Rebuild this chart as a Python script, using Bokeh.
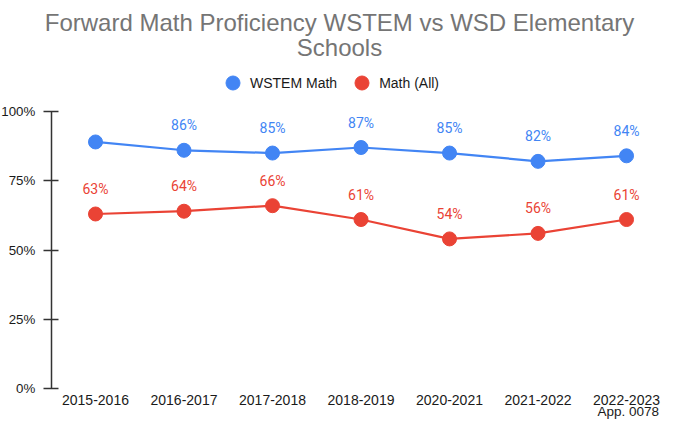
from bokeh.plotting import figure
from bokeh.models import (ColumnDataSource, Range1d, FixedTicker, LinearAxis,
                          Label, Legend, LegendItem)
from bokeh.core.properties import value
from bokeh.embed import file_html
from bokeh.resources import INLINE

years = ["2015-2016", "2016-2017", "2017-2018", "2018-2019",
         "2020-2021", "2021-2022", "2022-2023"]
wstem = [89, 86, 85, 87, 85, 82, 84]
math_all = [63, 64, 66, 61, 54, 56, 61]
wstem_labels = ["", "86%", "85%", "87%", "85%", "82%", "84%"]
math_labels = ["63%", "64%", "66%", "61%", "54%", "56%", "61%"]
y_ticks = [0, 25, 50, 75, 100]
y_tick_labels = ["0%", "25%", "50%", "75%", "100%"]

BLUE = "#4285F4"
RED = "#EA4335"

pos = list(range(len(years)))  # category slots

# the frame covers the whole figure; ranges are widened so the plot area sits
# where the reference's does and title / legend fit inside the frame
p = figure(width=674, height=430, output_backend="svg", toolbar_location=None,
           x_range=Range1d(-1.0734, 6.542), y_range=Range1d(-15.16, 140.07),
           x_axis_location=None, y_axis_location=None,
           min_border_left=0, min_border_right=0, min_border_top=0,
           min_border_bottom=0)
p.outline_line_color = None
p.xgrid.grid_line_color = None
p.ygrid.grid_line_color = None

src_w = ColumnDataSource(dict(x=pos, y=wstem, t=wstem_labels))
src_m = ColumnDataSource(dict(x=pos, y=math_all, t=math_labels))

p.line("x", "y", source=src_w, line_color=BLUE, line_width=2.2)
p.line("x", "y", source=src_m, line_color=RED, line_width=2.2)
rw = p.scatter("x", "y", source=src_w, size=14, fill_color=BLUE, line_color=BLUE)
rm = p.scatter("x", "y", source=src_m, size=14, fill_color=RED, line_color=RED)

for src, col in ((src_w, BLUE), (src_m, RED)):
    p.text("x", "y", text="t", source=src, text_color=col,
           text_font=value("Roboto"), text_font_size="14px",
           text_align="center", text_baseline="middle", y_offset=-25)

# y axis, drawn at the left edge of the first category slot
yaxis = LinearAxis(ticker=FixedTicker(ticks=y_ticks), fixed_location=-0.5,
                   bounds=(y_ticks[0], y_ticks[-1]))
yaxis.major_label_overrides = {t: l for t, l in zip(y_ticks, y_tick_labels)}
yaxis.axis_line_color = "#333333"
yaxis.axis_line_width = 1.5
yaxis.major_tick_line_color = "#333333"
yaxis.major_tick_line_width = 1.5
yaxis.major_tick_in = 7
yaxis.major_tick_out = 8
yaxis.minor_tick_line_color = None
yaxis.major_label_standoff = 8
yaxis.major_label_text_font = "Liberation Sans"
yaxis.major_label_text_font_size = "13.3px"
yaxis.major_label_text_color = "#1a1a1a"
p.add_layout(yaxis, "left")

# x axis drawn at y = 0
xaxis = LinearAxis(ticker=FixedTicker(ticks=pos), fixed_location=0)
xaxis.major_label_overrides = {i: y for i, y in zip(pos, years)}
xaxis.axis_line_color = None
xaxis.major_tick_line_color = None
xaxis.minor_tick_line_color = None
xaxis.major_tick_in = 0
xaxis.major_tick_out = 0
xaxis.major_label_standoff = 6
xaxis.major_label_text_font = "Liberation Sans"
xaxis.major_label_text_font_size = "14px"
xaxis.major_label_text_color = "#1a1a1a"
p.add_layout(xaxis, "below")

# title
for txt, yy in (("Forward Math Proficiency WSTEM vs WSD Elementary", 408),
                ("Schools", 383)):
    p.add_layout(Label(x=339, y=yy, x_units="screen", y_units="screen", text=txt,
                       text_font="Liberation Sans", text_font_size="24px",
                       text_color="#757575", text_align="center",
                       text_baseline="middle"))

# legend
legend = Legend(items=[LegendItem(label="WSTEM Math", renderers=[rw]),
                       LegendItem(label="Math (All)", renderers=[rm])],
                orientation="horizontal", location=(215, 330),
                glyph_width=35, glyph_height=35, label_standoff=-3,
                spacing=7, padding=0, margin=0,
                border_line_color=None, background_fill_alpha=0,
                label_text_font="Liberation Sans", label_text_font_size="14px",
                label_text_color="#1a1a1a")
p.add_layout(legend, "center")

p.add_layout(Label(x=597, y=19, x_units="screen", y_units="screen", text="App. 0078",
                   text_font="Liberation Sans", text_font_size="13.5px",
                   text_color="#1a1a1a", text_align="left", text_baseline="middle"))

open("out.html", "w").write(file_html(p, INLINE))
